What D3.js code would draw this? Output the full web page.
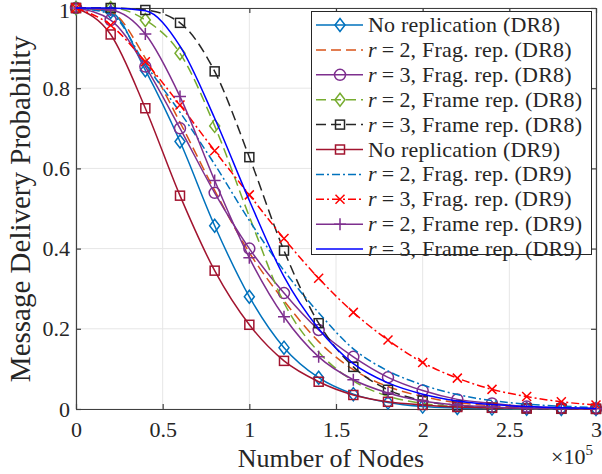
<!DOCTYPE html>
<html>
<head>
<meta charset="utf-8">
<script src="https://cdn.jsdelivr.net/npm/d3@7"></script>
<style>
  body { margin: 0; background: #fff; }
  text { font-family: "Liberation Serif", "Times New Roman", serif; fill: #262626; }
</style>
</head>
<body>
<div id="graph"></div>
<script>
const MARGIN = { LEFT: 76, RIGHT: 6, TOP: 8, BOTTOM: 65 }
const WIDTH = 602 - MARGIN.LEFT - MARGIN.RIGHT
const HEIGHT = 474 - MARGIN.TOP - MARGIN.BOTTOM

// number of nodes at each sample
const nodes = [0, 20000, 40000, 60000, 80000, 100000, 120000, 140000,
  160000, 180000, 200000, 220000, 240000, 260000, 280000, 300000]

const noRepDR8   = [1, 0.99, 0.845, 0.667, 0.457, 0.28, 0.153, 0.078, 0.037, 0.016, 0.006, 0.0025, 0.001, 0.0004, 0.0002, 0.0001]
const fragR2DR8  = [1, 0.99, 0.875, 0.715, 0.545, 0.39, 0.27, 0.168, 0.098, 0.056, 0.031, 0.016, 0.008, 0.004, 0.002, 0.001]
const fragR3DR8  = [1, 0.97, 0.854, 0.70, 0.539, 0.40, 0.289, 0.197, 0.13, 0.079, 0.046, 0.024, 0.014, 0.006, 0.003, 0.001]
const frameR2DR8 = [1, 1.0, 0.97, 0.887, 0.706, 0.48, 0.265, 0.142, 0.07, 0.032, 0.014, 0.006, 0.0025, 0.001, 0.0004, 0.0002]
const frameR3DR8 = [1, 1.0, 0.995, 0.963, 0.842, 0.628, 0.395, 0.214, 0.105, 0.048, 0.021, 0.009, 0.0035, 0.0014, 0.0005, 0.0002]
const noRepDR9   = [1, 0.934, 0.75, 0.532, 0.345, 0.21, 0.12, 0.068, 0.035, 0.018, 0.01, 0.005, 0.003, 0.0015, 0.001, 0.0005]
const fragR2DR9  = [1, 0.985, 0.86, 0.74, 0.61, 0.47, 0.345, 0.24, 0.15, 0.095, 0.06, 0.036, 0.021, 0.012, 0.007, 0.004]
const fragR3DR9  = [1, 0.957, 0.866, 0.758, 0.644, 0.534, 0.425, 0.326, 0.241, 0.172, 0.116, 0.077, 0.049, 0.031, 0.018, 0.01]
const frameR2DR9 = [1, 0.995, 0.935, 0.779, 0.57, 0.377, 0.23, 0.13, 0.073, 0.04, 0.02, 0.01, 0.005, 0.002, 0.001, 0.0005]
const frameR3DR9 = [1, 1.0, 0.993, 0.905, 0.725, 0.52, 0.33, 0.2, 0.113, 0.065, 0.037, 0.02, 0.011, 0.006, 0.003, 0.0015]

const labels = [
  "No replication (DR8)",
  "r = 2, Frag. rep. (DR8)",
  "r = 3, Frag. rep. (DR8)",
  "r = 2, Frame rep. (DR8)",
  "r = 3, Frame rep. (DR8)",
  "No replication (DR9)",
  "r = 2, Frag. rep. (DR9)",
  "r = 3, Frag. rep. (DR9)",
  "r = 2, Frame rep. (DR9)",
  "r = 3, Frame rep. (DR9)"
]

const xTicks = [0, 50000, 100000, 150000, 200000, 250000, 300000]
const xTickLabels = ["0", "0.5", "1", "1.5", "2", "2.5", "3"]
const yTicks = [0, 0.2, 0.4, 0.6, 0.8, 1]
const yTickLabels = ["0", "0.2", "0.4", "0.6", "0.8", "1"]

// markerCount: how many of the first samples carry a marker
const series = [
  { values: noRepDR8,   color: "#0072BD", dash: null,      marker: "diamond", markerCount: 16 },
  { values: fragR2DR8,  color: "#D95319", dash: "10,5",    marker: null },
  { values: fragR3DR8,  color: "#7E2F8E", dash: null,      marker: "circle",  markerCount: 16 },
  { values: frameR2DR8, color: "#77AC30", dash: "10,5",    marker: "diamond", markerCount: 5 },
  { values: frameR3DR8, color: "#262626", dash: "10,5",    marker: "square",  markerCount: 16 },
  { values: noRepDR9,   color: "#A2142F", dash: null,      marker: "square",  markerCount: 16 },
  { values: fragR2DR9,  color: "#0072BD", dash: "8,3,2,3", marker: null },
  { values: fragR3DR9,  color: "#FF0000", dash: "8,3,2,3", marker: "cross",   markerCount: 16 },
  { values: frameR2DR9, color: "#7E2F8E", dash: null,      marker: "plus",    markerCount: 16 },
  { values: frameR3DR9, color: "#0000FF", dash: null,      marker: null }
]

const svg = d3.select("#graph").append("svg")
    .attr("width", 602)
    .attr("height", 474)

const g = svg.append("g")
    .attr("transform", `translate(${MARGIN.LEFT}, ${MARGIN.TOP})`)

const x = d3.scaleLinear().range([0, WIDTH]).domain([0, 300000])
const y = d3.scaleLinear().range([HEIGHT, 0]).domain([0, 1])

// Grid
g.selectAll(".xgrid").data(xTicks).enter().append("line")
    .attr("x1", d => x(d)).attr("x2", d => x(d))
    .attr("y1", 0).attr("y2", HEIGHT)
    .attr("stroke", "#e6e6e6").attr("stroke-width", 1)
g.selectAll(".ygrid").data(yTicks).enter().append("line")
    .attr("x1", 0).attr("x2", WIDTH)
    .attr("y1", d => y(d)).attr("y2", d => y(d))
    .attr("stroke", "#e6e6e6").attr("stroke-width", 1)

// Axes (ticks inward, box on)
const styleAxis = sel => {
    sel.select(".domain").attr("stroke", "#404040").attr("stroke-width", 1.2)
    sel.selectAll(".tick line").attr("stroke", "#404040").attr("stroke-width", 1.2)
    sel.selectAll(".tick text").attr("font-size", "22px").attr("fill", "#262626")
}
g.append("g").attr("transform", `translate(0, ${HEIGHT})`)
    .call(d3.axisBottom(x).tickValues(xTicks).tickFormat((d, i) => xTickLabels[i])
        .tickSizeInner(-5).tickSizeOuter(0).tickPadding(12))
    .call(styleAxis)
g.append("g")
    .call(d3.axisLeft(y).tickValues(yTicks).tickFormat((d, i) => yTickLabels[i])
        .tickSizeInner(-5).tickSizeOuter(0).tickPadding(6))
    .call(styleAxis)
    .selectAll(".tick text").filter(d => d === 1).attr("dy", "0.42em")
g.append("g")
    .call(d3.axisTop(x).tickValues(xTicks).tickFormat("").tickSizeInner(-5).tickSizeOuter(0))
    .call(styleAxis)
g.append("g").attr("transform", `translate(${WIDTH}, 0)`)
    .call(d3.axisRight(y).tickValues(yTicks).tickFormat("").tickSizeInner(-5).tickSizeOuter(0))
    .call(styleAxis)

// Lines
const line = d3.line()
    .x((d, i) => x(nodes[i]))
    .y(d => y(d))
    .curve(d3.curveMonotoneX)

const drawMarker = (sel, type, color) => {
    if (type === "diamond") {
        sel.append("path").attr("d", "M0,-6.5L5,0L0,6.5L-5,0Z")
    } else if (type === "circle") {
        sel.append("circle").attr("r", 5.5)
    } else if (type === "square") {
        sel.append("rect").attr("x", -4.5).attr("y", -4.5).attr("width", 9).attr("height", 9)
    } else if (type === "cross") {
        sel.append("path").attr("d", "M-4.5,-4.5L4.5,4.5M-4.5,4.5L4.5,-4.5")
    } else if (type === "plus") {
        sel.append("path").attr("d", "M-6,0L6,0M0,-6L0,6")
    }
    sel.selectAll("path,circle,rect")
        .attr("fill", "none").attr("stroke", color).attr("stroke-width", 1.5)
}

series.forEach(s => {
    g.append("path")
        .attr("d", line(s.values))
        .attr("fill", "none")
        .attr("stroke", s.color)
        .attr("stroke-width", 1.5)
        .attr("stroke-dasharray", s.dash)
    if (s.marker) {
        g.selectAll(null)
            .data(s.values.slice(0, s.markerCount))
            .enter().append("g")
            .attr("transform", (d, i) => `translate(${x(nodes[i])}, ${y(d)})`)
            .each(function () { drawMarker(d3.select(this), s.marker, s.color) })
    }
})

// Legend
const legend = svg.append("g")
legend.append("rect")
    .attr("x", 311.5).attr("y", 11.5).attr("width", 280).attr("height", 243)
    .attr("fill", "#fff").attr("stroke", "#262626").attr("stroke-width", 1)
series.forEach((s, i) => {
    const ly = 25 + i * 24.9
    legend.append("line")
        .attr("x1", 316).attr("x2", 363).attr("y1", ly).attr("y2", ly)
        .attr("stroke", s.color).attr("stroke-width", 1.5)
        .attr("stroke-dasharray", s.dash)
    if (s.marker) {
        const m = legend.append("g").attr("transform", `translate(340, ${ly})`)
        drawMarker(m, s.marker, s.color)
    }
    const t = legend.append("text")
        .attr("x", 368).attr("y", ly + 7)
        .attr("font-size", "22px")
        .attr("letter-spacing", "0.2px")
    const lab = labels[i]
    if (lab.startsWith("r = ")) {
        t.append("tspan").attr("font-style", "italic").text("r")
        t.append("tspan").attr("dx", 5).text("=")
        t.append("tspan").attr("dx", 5).text(lab.slice(4))
    } else {
        t.text(lab)
    }
})

// Labels
svg.append("text")
    .attr("x", 331).attr("y", 467)
    .attr("font-size", "26px")
    .attr("text-anchor", "middle")
    .text("Number of Nodes")
svg.append("text")
    .attr("transform", "rotate(-90)")
    .attr("x", -209).attr("y", 30)
    .attr("font-size", "29px")
    .attr("text-anchor", "middle")
    .text("Message Delivery Probability")
const exp = svg.append("text")
    .attr("x", 551).attr("y", 464)
    .attr("font-size", "22px")
exp.append("tspan").text("\u00d710")
exp.append("tspan").attr("font-size", "15px").attr("dy", -9).text("5")
</script>
</body>
</html>
